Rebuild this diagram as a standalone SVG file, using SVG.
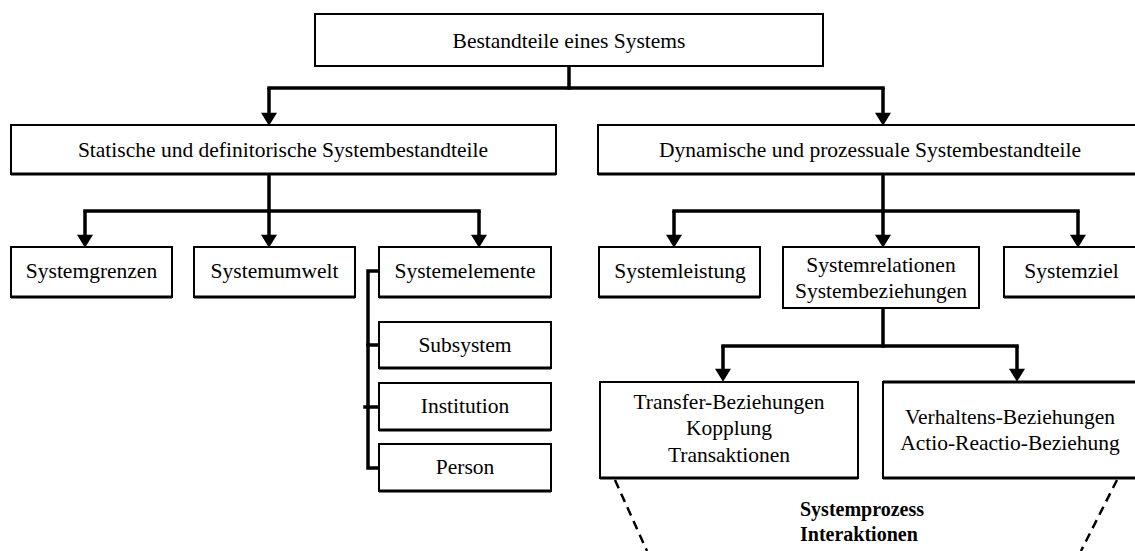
<svg xmlns="http://www.w3.org/2000/svg" width="1135" height="551" viewBox="0 0 1135 551">
  <style>
    .box { fill: #fff; stroke: #000; stroke-width: 2; }
    .edge { fill: none; stroke: #000; stroke-width: 3.2; }
    .lbl { font-family: "Liberation Serif", "Times New Roman", serif; font-size: 21.5px; fill: #000; text-anchor: middle; }
    .bold { font-family: "Liberation Serif", "Times New Roman", serif; font-size: 20px; font-weight: bold; fill: #000; }
    .wire { fill: none; stroke: #000; stroke-width: 3.5; stroke-linecap: square; }
    .arrow { fill: none; stroke: #000; stroke-width: 3.5; marker-end: url(#head); }
    .dash { fill: none; stroke: #000; stroke-width: 2.5; stroke-dasharray: 9 6; }
  </style>
  <defs>
    <marker id="head" markerUnits="userSpaceOnUse" markerWidth="14" markerHeight="16" viewBox="0 0 12 15" refX="2" refY="7.5" orient="auto">
      <path d="M0,0 L12,7.5 L0,15 Z" fill="#000"/>
    </marker>
  </defs>

  <rect width="1135" height="551" fill="#fff"/>

  <!-- connectors -->
  <g id="connectors">
    <path class="wire" d="M569,66 V88"/>
    <path class="wire" d="M269,88 H883"/>
    <path class="arrow" d="M269,88 V115"/>
    <path class="arrow" d="M883,88 V115"/>

    <path class="wire" d="M269,174 V211"/>
    <path class="wire" d="M85,211 H479"/>
    <path class="arrow" d="M85,211 V237"/>
    <path class="arrow" d="M269,211 V237"/>
    <path class="arrow" d="M479,211 V237"/>

    <path class="wire" d="M883,174 V211"/>
    <path class="wire" d="M674,211 H1078"/>
    <path class="arrow" d="M674,211 V237"/>
    <path class="arrow" d="M883,211 V237"/>
    <path class="arrow" d="M1078,211 V237"/>

    <path class="wire" d="M883,308 V346"/>
    <path class="wire" d="M723,346 H1017"/>
    <path class="arrow" d="M723,346 V371"/>
    <path class="arrow" d="M1017,346 V371"/>

    <!-- bracket joining the element types -->
    <path class="wire" d="M379,271 H368 V468 H379" stroke-linecap="butt"/>
    <path class="wire" d="M368,345 H379" stroke-linecap="butt"/>
    <path class="wire" d="M365,407 H379" stroke-linecap="butt"/>

    <!-- funnel of the system process -->
    <path class="dash" d="M615,480 L647,551"/>
    <path class="dash" d="M1117,480 L1081,551"/>
  </g>

  <g id="root">
    <rect class="box" x="315" y="14" width="508" height="52"/>
    <text class="lbl" x="569" y="48">Bestandteile eines Systems</text>
  </g>

  <g id="static">
    <rect class="box" x="11" y="125" width="545" height="49"/>
    <line class="edge" x1="11" y1="174" x2="556" y2="174"/>
    <text class="lbl" x="283" y="157">Statische und definitorische Systembestandteile</text>
  </g>

  <g id="dynamic">
    <rect class="box" x="598" y="125" width="545" height="49"/>
    <line class="edge" x1="598" y1="174" x2="1135" y2="174"/>
    <text class="lbl" x="870" y="157">Dynamische und prozessuale Systembestandteile</text>
  </g>

  <g id="grenzen">
    <rect class="box" x="11" y="247" width="161" height="50"/>
    <line class="edge" x1="11" y1="297" x2="172" y2="297"/>
    <text class="lbl" x="91.5" y="278">Systemgrenzen</text>
  </g>

  <g id="umwelt">
    <rect class="box" x="194" y="247" width="161" height="50"/>
    <line class="edge" x1="194" y1="297" x2="355" y2="297"/>
    <text class="lbl" x="274.5" y="278">Systemumwelt</text>
  </g>

  <g id="elemente">
    <rect class="box" x="379" y="247" width="172" height="50"/>
    <line class="edge" x1="379" y1="297" x2="551" y2="297"/>
    <text class="lbl" x="465" y="278">Systemelemente</text>
  </g>

  <g id="subsystem">
    <rect class="box" x="379" y="322" width="172" height="46"/>
    <line class="edge" x1="379" y1="368" x2="551" y2="368"/>
    <text class="lbl" x="465" y="352">Subsystem</text>
  </g>

  <g id="institution">
    <rect class="box" x="379" y="383" width="172" height="47"/>
    <line class="edge" x1="379" y1="430" x2="551" y2="430"/>
    <text class="lbl" x="465" y="413">Institution</text>
  </g>

  <g id="person">
    <rect class="box" x="379" y="444" width="172" height="47"/>
    <line class="edge" x1="379" y1="491" x2="551" y2="491"/>
    <text class="lbl" x="465" y="474">Person</text>
  </g>

  <g id="leistung">
    <rect class="box" x="599" y="247" width="161" height="50"/>
    <line class="edge" x1="599" y1="297" x2="760" y2="297"/>
    <text class="lbl" x="680" y="278">Systemleistung</text>
  </g>

  <g id="relationen">
    <rect class="box" x="783" y="247" width="196" height="61" stroke-width="3"/>
    <text class="lbl" x="881" y="272">Systemrelationen</text>
    <text class="lbl" x="881" y="298">Systembeziehungen</text>
  </g>

  <g id="ziel">
    <rect class="box" x="1004" y="247" width="136" height="50"/>
    <line class="edge" x1="1004" y1="297" x2="1135" y2="297"/>
    <text class="lbl" x="1071.5" y="278">Systemziel</text>
  </g>

  <g id="transfer">
    <rect class="box" x="600" y="382" width="258" height="96"/>
    <line class="edge" x1="600" y1="478" x2="858" y2="478"/>
    <text class="lbl" x="729" y="409">Transfer-Beziehungen</text>
    <text class="lbl" x="729" y="435">Kopplung</text>
    <text class="lbl" x="729" y="462">Transaktionen</text>
  </g>

  <g id="verhalten">
    <rect class="box" x="883" y="382" width="258" height="96"/>
    <line class="edge" x1="883" y1="382" x2="1135" y2="382"/>
    <line class="edge" x1="883" y1="478" x2="1135" y2="478"/>
    <text class="lbl" x="1010" y="424">Verhaltens-Beziehungen</text>
    <text class="lbl" x="1010" y="450">Actio-Reactio-Beziehung</text>
  </g>

  <g id="prozess">
    <text class="bold" x="800" y="516">Systemprozess</text>
    <text class="bold" x="800" y="541">Interaktionen</text>
  </g>
</svg>
